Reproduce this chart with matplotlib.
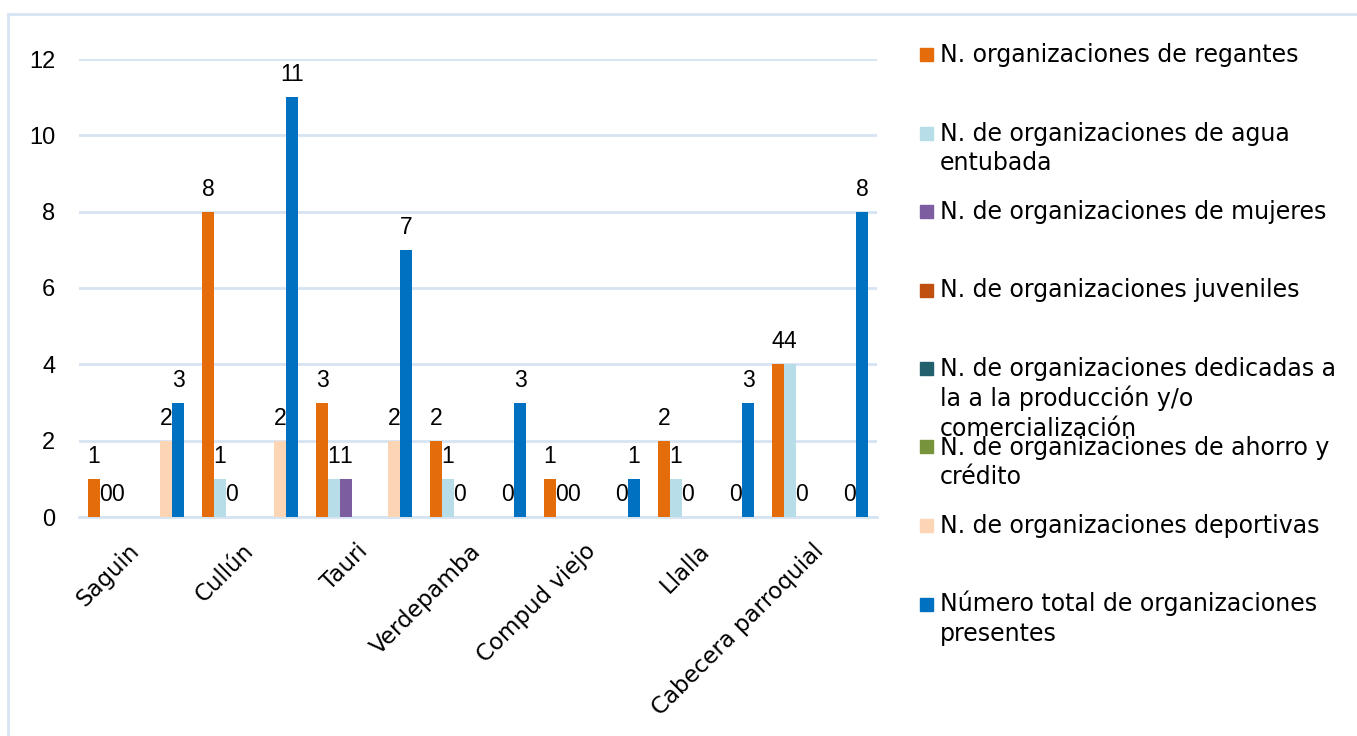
import numpy as np
import matplotlib
matplotlib.use('Agg')
import matplotlib.pyplot as plt
from matplotlib.lines import Line2D
from matplotlib.patches import Rectangle

plt.rcParams['font.family'] = ['Liberation Sans', 'DejaVu Sans']

# data
categories = ['Saguin', 'Cullún', 'Tauri', 'Verdepamba', 'Compud viejo', 'Llalla', 'Cabecera parroquial']
nan = np.nan
regantes = [1, 8, 3, 2, 1, 2, 4]
agua = [0, 1, 1, 1, 0, 1, 4]
mujeres = [0, 0, 1, 0, 0, 0, 0]
juveniles = [nan, nan, nan, nan, nan, nan, nan]
produccion = [nan, nan, nan, nan, nan, nan, nan]
ahorro = [nan, nan, nan, nan, nan, nan, nan]
deportivas = [2, 2, 2, 0, 0, 0, 0]
total = [3, 11, 7, 3, 1, 3, 8]

series = [regantes, agua, mujeres, juveniles, produccion, ahorro, deportivas, total]
names = ['N. organizaciones de regantes',
         'N. de organizaciones de agua\nentubada',
         'N. de organizaciones de mujeres',
         'N. de organizaciones juveniles',
         'N. de organizaciones dedicadas a\nla a la producción y/o\ncomercialización',
         'N. de organizaciones de ahorro y\ncrédito',
         'N. de organizaciones deportivas',
         'Número total de organizaciones\npresentes']
colors = ['#E46C0A', '#B7DEE8', '#7B5DA0', '#C0500F', '#23606E', '#77933C', '#FCD5B5', '#0070C0']

W, H = 1357, 736
fig = plt.figure(figsize=(W / 100, H / 100), dpi=100)
ax = fig.add_axes([79 / W, 1 - 517 / H, 798 / W, 458 / H])

x = np.arange(len(categories))
bw = 12 / 114
for i, (vals, col) in enumerate(zip(series, colors)):
    xs = x + (i - 3.5) * bw
    v = np.array(vals, dtype=float)
    ax.bar(xs, np.nan_to_num(v), width=bw, color=col, zorder=3)
    for xi, vi in zip(xs, v):
        if np.isnan(vi):
            continue
        ax.annotate('%d' % vi, (xi, vi), xytext=(0, 11.5), textcoords='offset points',
                    ha='center', va='baseline', fontsize=16.5, color='black',
                    annotation_clip=False, zorder=5)

ax.set_xlim(-0.5, 6.5)
ax.set_ylim(0, 12)
ax.set_yticks(range(0, 13, 2))
ax.yaxis.grid(True, color='#D6E3F3', linewidth=2, zorder=0)
ax.set_axisbelow(True)
for s in ['top', 'right', 'left']:
    ax.spines[s].set_visible(False)
ax.spines['bottom'].set_color('#D6E3F3')
ax.spines['bottom'].set_linewidth(2)
ax.tick_params(axis='y', length=0, pad=17, labelsize=17)
ax.tick_params(axis='x', length=0, pad=22)
ax.set_xticks(x)
ax.set_xticklabels(categories, rotation=45, ha='right', va='center', rotation_mode='anchor',
                   fontsize=16.5, family='DejaVu Sans')

# legend drawn by hand (fixed spacing like the original, entries overlap there too)
for i, (name, col) in enumerate(zip(names, colors)):
    base = 62 + 78.5 * i
    fig.patches.append(Rectangle((920 / W, 1 - (base - 1) / H), 13 / W, 13 / H,
                                 transform=fig.transFigure, color=col))
    for k, line in enumerate(name.split('\n')):
        fig.text(940 / W, 1 - (base + 30 * k) / H, line, fontsize=17, family='DejaVu Sans',
                 ha='left', va='baseline', color='black')

# outer border: only top and left edges are visible
fig.lines.append(Line2D([8 / W, 1.0], [1 - 14 / H, 1 - 14 / H], transform=fig.transFigure,
                        color='#D6E3F3', linewidth=2))
fig.lines.append(Line2D([8 / W, 8 / W], [0, 1 - 14 / H], transform=fig.transFigure,
                        color='#D6E3F3', linewidth=2))

fig.savefig('out.png', dpi=100)
